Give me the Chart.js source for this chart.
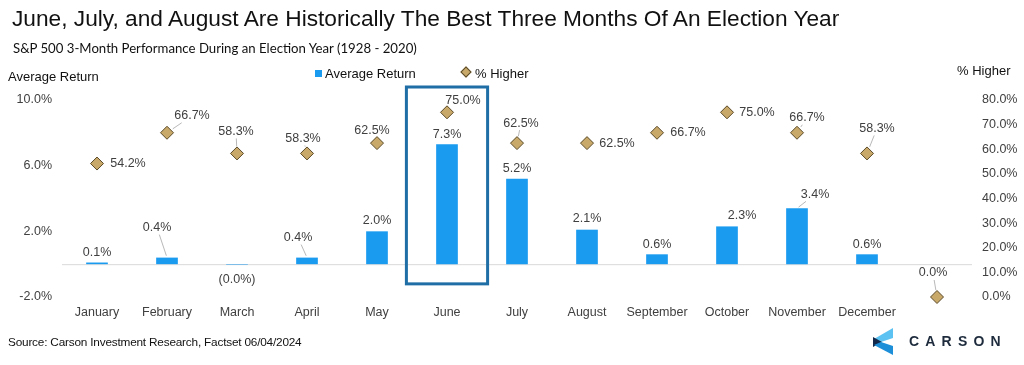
<!DOCTYPE html>
<html>
<head>
<meta charset="utf-8">
<script src="https://cdn.jsdelivr.net/npm/chart.js@4"></script>
<style>
  body { margin: 0; background: #fff; }
  #wrap { position: relative; width: 1024px; height: 365px; overflow: hidden; font-family: "Liberation Sans", Arial, sans-serif; color: #000; }
  #wrap canvas { position: absolute; left: 0; top: 0; }
  .txt { position: absolute; white-space: nowrap; }
  #titulo { left: 12px; top: 5px; font-size: 22.7px; color: #111; }
  #subtitulo { left: 13px; top: 40px; font-family: Lato, "Open Sans", sans-serif; font-size: 13.2px; color: #111; }
  #eixoEsq { left: 8px; top: 69px; font-size: 13px; color: #111; }
  #eixoDir { left: 957px; top: 63px; font-size: 13px; color: #111; }
  #leg1 { left: 315px; top: 66px; font-size: 13px; color: #111; }
  #leg2 { left: 462px; top: 66px; font-size: 13px; color: #111; }
  .quad { display: inline-block; width: 7px; height: 7px; background: #1a9bf0; margin-right: 3px; vertical-align: 1px; }
  .losango { display: inline-block; width: 6px; height: 6px; background: #c8a96a; border: 1px solid #5b4a28; transform: rotate(45deg); margin-right: 5px; vertical-align: 2px; }
  #fonte { left: 8px; top: 335px; font-size: 11.8px; color: #111; letter-spacing: -0.2px; }
  #logo { left: 873px; top: 328px; }
  #carson { left: 909px; top: 333px; font-size: 14px; font-weight: bold; letter-spacing: 6.2px; color: #1d2b3c; }
</style>
</head>
<body>
<div id="wrap">
  <canvas id="grafico" width="1024" height="365"></canvas>
  <div class="txt" id="titulo">June, July, and August Are Historically The Best Three Months Of An Election Year</div>
  <div class="txt" id="subtitulo">S&amp;P 500 3-Month Performance During an Election Year (1928 - 2020)</div>
  <div class="txt" id="eixoEsq">Average Return</div>
  <div class="txt" id="eixoDir">% Higher</div>
  <div class="txt" id="leg1"><span class="quad"></span>Average Return</div>
  <div class="txt" id="leg2"><span class="losango"></span>% Higher</div>
  <div class="txt" id="fonte">Source: Carson Investment Research, Factset 06/04/2024</div>
  <svg class="txt" id="logo" width="21" height="28" viewBox="0 0 21 28">
    <polygon points="20,0 20,10 8,14 1,11" fill="#5cc2f2"/>
    <polygon points="0,9 9,14 0,19" fill="#13294b"/>
    <polygon points="1,17 8,14 20,18 20,27" fill="#1d8fd8"/>
  </svg>
  <div class="txt" id="carson">CARSON</div>
</div>
<script>
const meses = ['January', 'February', 'March', 'April', 'May', 'June', 'July',
  'August', 'September', 'October', 'November', 'December', ''];
const retornoMedio = [0.1, 0.4, -0.03, 0.4, 2.0, 7.3, 5.2, 2.1, 0.6, 2.3, 3.4, 0.6, null];
const pctAlta = [54.2, 66.7, 58.3, 58.3, 62.5, 75.0, 62.5, 62.5, 66.7, 75.0, 66.7, 58.3, 0.0];
const mesDestaque = 'June';

// deslocamento dos rótulos (px) e se leva linha de chamada
const rotBarras = [[0, -10], [-10, -30, 1], [0, 15], [-9, -20, 1], [0, -11], [0, -10], [0, -10],
  [0, -11], [0, -10], [15, -11], [18, -14, 1], [0, -10], null];
const rotLosangos = [[31, 0], [25, -17, 1], [-1, -22, 1], [-4, -15, 1], [-5, -13], [16, -12], [4, -20, 1],
  [30, 0], [31, 0], [30, 0], [10, -15, 1], [10, -25, 1], [-4, -24, 1]];

const corBarra = '#1a9bf0';
const corTexto = '#404040';
const fonteRot = '12.5px "Liberation Sans", Arial, sans-serif';

function fmtRet(v) {
  return v < 0 ? '(' + Math.abs(v).toFixed(1) + '%)' : v.toFixed(1) + '%';
}

function desenharRotulo(ctx, texto, px, py, off, raio) {
  if (!off) return;
  const lx = px + off[0], ly = py + off[1];
  ctx.fillText(texto, lx, ly);
  if (off[2]) {
    const w = ctx.measureText(texto).width / 2 + 1, h = 7;
    const dx = lx - px, dy = ly - py;
    const len = Math.hypot(dx, dy);
    const t = Math.min(w / Math.abs(dx || 1e-6), h / Math.abs(dy || 1e-6));
    const ex = lx - dx * t, ey = ly - dy * t;
    const sx = px + dx / len * raio, sy = py + dy / len * raio;
    ctx.beginPath();
    ctx.moveTo(sx, sy);
    ctx.lineTo(ex, ey);
    ctx.stroke();
  }
}

const pluginExtras = {
  id: 'extras',
  beforeDatasetsDraw(chart) {
    const { ctx, chartArea, scales } = chart;
    const y0 = scales.y.getPixelForValue(0);
    ctx.save();
    ctx.strokeStyle = '#d9d9d9';
    ctx.lineWidth = 1;
    ctx.beginPath();
    ctx.moveTo(chartArea.left, y0 + 0.5);
    ctx.lineTo(chartArea.right, y0 + 0.5);
    ctx.stroke();
    ctx.restore();
  },
  afterDatasetsDraw(chart) {
    const { ctx, chartArea, scales } = chart;
    ctx.save();
    ctx.font = fonteRot;
    ctx.fillStyle = corTexto;
    ctx.strokeStyle = '#a6a6a6';
    ctx.lineWidth = 0.8;
    ctx.textAlign = 'center';
    ctx.textBaseline = 'middle';

    const barras = chart.getDatasetMeta(0).data;
    barras.forEach((b, i) => {
      const v = retornoMedio[i];
      if (v === null) return;
      desenharRotulo(ctx, fmtRet(v), b.x, b.y, rotBarras[i], 2);
    });
    const pontos = chart.getDatasetMeta(1).data;
    pontos.forEach((p, i) => {
      desenharRotulo(ctx, pctAlta[i].toFixed(1) + '%', p.x, p.y, rotLosangos[i], 7);
    });

    // caixa de destaque em junho
    const idx = meses.indexOf(mesDestaque);
    const cx = scales.x.getPixelForValue(idx);
    const larg = (chartArea.right - chartArea.left) / meses.length;
    const topo = chartArea.top - 13;
    const base = scales.y.getPixelForValue(-1.2);
    ctx.strokeStyle = '#1f6ea6';
    ctx.lineWidth = 3;
    ctx.strokeRect(cx - larg * 0.58, topo, larg * 1.16, base - topo);
    ctx.restore();
  }
};

new Chart(document.getElementById('grafico'), {
  data: {
    labels: meses,
    datasets: [
      {
        type: 'bar',
        label: 'Average Return',
        data: retornoMedio,
        backgroundColor: corBarra,
        yAxisID: 'y',
        barPercentage: 0.31,
        categoryPercentage: 1,
        order: 2
      },
      {
        type: 'line',
        label: '% Higher',
        data: pctAlta,
        yAxisID: 'y2',
        showLine: false,
        clip: false,
        pointStyle: 'rectRot',
        pointRadius: 6.5,
        pointBackgroundColor: '#c8a96a',
        pointBorderColor: '#5b4a28',
        pointBorderWidth: 1,
        order: 1
      }
    ]
  },
  options: {
    responsive: false,
    animation: false,
    layout: { padding: { top: 100, left: 0, right: 0, bottom: 0 } },
    plugins: { legend: { display: false }, tooltip: { enabled: false } },
    scales: {
      x: {
        grid: { display: false, drawTicks: false },
        border: { display: false },
        ticks: { color: corTexto, font: { family: '"Liberation Sans", Arial', size: 12.5 }, padding: 8, maxRotation: 0, autoSkip: false },
        afterFit(s) { s.height = 68; }
      },
      y: {
        position: 'left',
        min: -2, max: 10,
        grid: { display: false, drawTicks: false },
        border: { display: false },
        ticks: { stepSize: 4, color: corTexto, font: { family: '"Liberation Sans", Arial', size: 12.5 }, padding: 10,
          callback: v => v.toFixed(1) + '%' },
        afterFit(s) { s.width = 62; }
      },
      y2: {
        position: 'right',
        min: 0, max: 80,
        grid: { display: false, drawTicks: false },
        border: { display: false },
        ticks: { stepSize: 10, color: corTexto, font: { family: '"Liberation Sans", Arial', size: 12.5 }, padding: 10,
          callback: v => v.toFixed(1) + '%' },
        afterFit(s) { s.width = 52; }
      }
    }
  },
  plugins: [pluginExtras]
});
</script>
</body>
</html>
